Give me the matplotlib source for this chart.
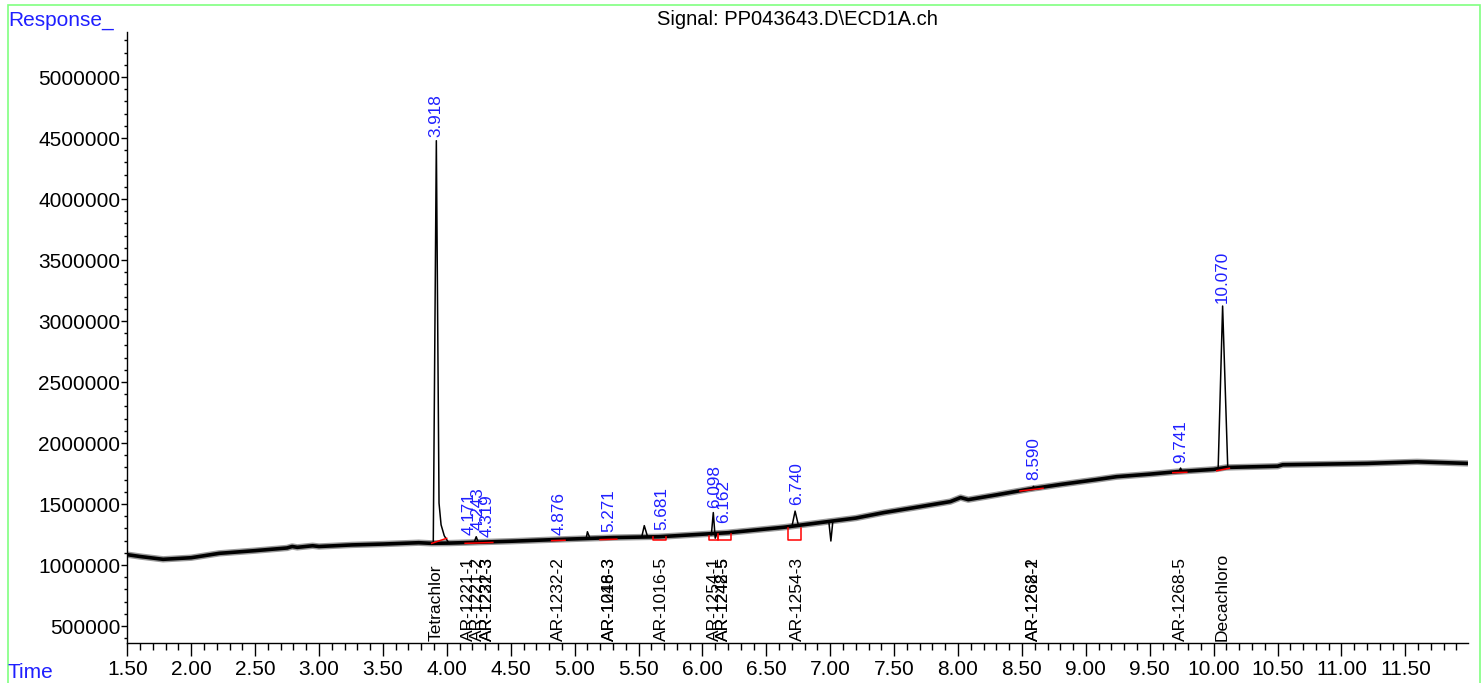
"""
Recreate the ECD1A chromatogram (PP043643.D) with peak and compound labels
"""

import numpy as np
import matplotlib
matplotlib.use('Agg')
import matplotlib.pyplot as plt
from matplotlib.patches import Rectangle
from matplotlib.ticker import MultipleLocator, FuncFormatter

plt.rcParams['font.family'] = ['Liberation Sans', 'DejaVu Sans']

# ---- baseline of the trace (time, response) ----
baseline_t = [1.50, 1.60, 1.78, 2.00, 2.22, 2.50, 2.75, 2.79, 2.83, 2.95, 3.00, 3.26,
              3.50, 3.78, 3.88, 4.02, 4.50, 4.88, 5.30, 5.66, 6.02, 6.20, 6.64,
              6.90, 7.20, 7.42, 7.70, 7.94, 8.02, 8.08, 8.30, 8.56, 8.80, 9.08,
              9.24, 9.50, 9.71, 10.00, 10.10, 10.50, 10.54, 10.80, 11.20, 11.59, 11.99]
baseline_resp = [1085000, 1070000, 1047000, 1060000, 1096000, 1118000, 1140000, 1152000,
                 1145000, 1158000, 1152000, 1165000, 1172000, 1183000, 1178000, 1180000,
                 1195000, 1210000, 1225000, 1232000, 1254000, 1265000, 1310000, 1345000,
                 1385000, 1430000, 1478000, 1520000, 1553000, 1536000, 1575000, 1623000,
                 1660000, 1700000, 1724000, 1745000, 1765000, 1784000, 1800000, 1810000,
                 1822000, 1826000, 1833000, 1846000, 1833000]

# ---- peaks / spikes drawn as thin lines (time, response) ----
spikes_t = [
    [3.894, 3.918, 3.939, 3.955, 3.980, 4.010],
    [4.215, 4.230, 4.245],
    [5.090, 5.100, 5.120],
    [5.525, 5.545, 5.570],
    [6.070, 6.085, 6.100, 6.115],
    [6.700, 6.725, 6.750],
    [6.990, 7.005, 7.020],
    [8.580, 8.590, 8.600],
    [9.730, 9.741, 9.752],
    [10.035, 10.070, 10.110],
]
spikes_resp = [
    [1180000, 4478000, 1508000, 1330000, 1240000, 1190000],
    [1190000, 1232000, 1190000],
    [1215000, 1273000, 1220000],
    [1230000, 1323000, 1235000],
    [1250000, 1430000, 1220000, 1262000],
    [1315000, 1442000, 1330000],
    [1345000, 1197000, 1355000],
    [1625000, 1645000, 1628000],
    [1768000, 1795000, 1770000],
    [1785000, 3123000, 1805000],
]

# ---- integrated peaks: retention time and apex response ----
peak_rt = [3.918, 4.171, 4.243, 4.319, 4.876, 5.271, 5.681, 6.098, 6.162,
           6.740, 8.590, 9.741, 10.070]
peak_resp = [4478000, 1215000, 1257000, 1200000, 1215000, 1240000, 1257000,
             1437000, 1314000, 1462000, 1667000, 1806000, 3123000]

# ---- compound names at expected retention times ----
compound_rt = [3.918, 4.171, 4.243, 4.319, 4.319, 4.876, 5.271, 5.271, 5.681,
               6.098, 6.162, 6.162, 6.740, 8.590, 8.590, 9.741, 10.070]
compound_names = ['Tetrachlor', 'AR-1221-1', 'AR-1221-2', 'AR-1221-3', 'AR-1232-3',
                  'AR-1232-2', 'AR-1016-3', 'AR-1248-3', 'AR-1016-5',
                  'AR-1254-1', 'AR-1242-5', 'AR-1248-5', 'AR-1254-3',
                  'AR-1262-1', 'AR-1268-2', 'AR-1268-5', 'Decachloro']

# ---- integration baselines (red lines) ----
integ_t0 = [3.882, 4.143, 4.820, 5.199, 8.485, 9.680, 10.024]
integ_t1 = [3.999, 4.360, 4.925, 5.330, 8.665, 9.790, 10.123]
integ_r0 = [1178000, 1178000, 1200000, 1208000, 1607000, 1757000, 1773000]
integ_r1 = [1219000, 1185000, 1203000, 1212000, 1629000, 1760000, 1793000]

# ---- integration boxes (red, open at the trace) ----
box_t0 = [5.610, 6.052, 6.122, 6.667]
box_t1 = [5.715, 6.122, 6.221, 6.769]
box_bottom = [1205000, 1205000, 1205000, 1205000]
box_top = [1227000, 1235000, 1254000, 1301000]

W, H = 1482, 683
BLUE = '#1f1fff'


def main():
    fig = plt.figure(figsize=(W / 100, H / 100), dpi=100)
    ax = fig.add_axes([127.3 / W, 40 / H, (1468 - 127.3) / W, (643 - 32) / H])

    # trace: noisy baseline band + thin peaks
    ax.plot(baseline_t, baseline_resp, color='#9a9a9a', lw=4.6, solid_capstyle='butt', zorder=2)
    ax.plot(baseline_t, baseline_resp, color='black', lw=2.6, solid_capstyle='butt', zorder=3)
    for st, sr in zip(spikes_t, spikes_resp):
        ax.plot(st, sr, color='black', lw=1.1, zorder=3)

    # red integration marks
    for t0, t1, r0, r1 in zip(integ_t0, integ_t1, integ_r0, integ_r1):
        ax.plot([t0, t1], [r0, r1], color='red', lw=1.1, zorder=4)
    for t0, t1, rb, rt in zip(box_t0, box_t1, box_bottom, box_top):
        ax.plot([t0, t0, t1, t1], [rt, rb, rb, rt], color='red', lw=1.1, zorder=4)

    # retention time labels
    for rt, resp in zip(peak_rt, peak_resp):
        ax.annotate(f'{rt:.3f}', xy=(rt, resp), xytext=(0, 2.5), textcoords='offset points',
                    rotation=90, ha='center', va='bottom', color=BLUE, fontsize=12.3, zorder=5)

    # compound names along the time axis
    for rt, name in zip(compound_rt, compound_names):
        ax.annotate(name, xy=(rt, 0), xycoords=('data', 'axes fraction'),
                    xytext=(0, 1.5), textcoords='offset points',
                    rotation=90, ha='center', va='bottom', color='black', fontsize=12.5, zorder=5)

    ax.set_xlim(1.5, 11.99)
    ax.set_ylim(361000, 5369000)
    for side in ['top', 'right']:
        ax.spines[side].set_visible(False)
    for side in ['left', 'bottom']:
        ax.spines[side].set_linewidth(1.0)

    ax.xaxis.set_major_locator(MultipleLocator(0.5))
    ax.xaxis.set_minor_locator(MultipleLocator(0.1))
    ax.xaxis.set_major_formatter(FuncFormatter(lambda v, p: f'{v:.2f}' if v < 11.9 else ''))
    ax.yaxis.set_major_locator(MultipleLocator(500000))
    ax.yaxis.set_minor_locator(MultipleLocator(100000))
    ax.yaxis.set_major_formatter(FuncFormatter(lambda v, p: f'{int(round(v))}'))

    ax.tick_params(axis='x', which='major', direction='out', length=9, width=1, pad=3, labelsize=15)
    ax.tick_params(axis='x', which='minor', direction='out', length=5, width=1)
    ax.tick_params(axis='y', which='major', direction='out', length=4.5, width=1, pad=0.5, labelsize=15)
    ax.tick_params(axis='y', which='minor', direction='out', length=2.5, width=1)

    # header / axis captions
    fig.text(8 / W, 1 - 26 / H, 'Response_', color=BLUE, fontsize=15, ha='left', va='baseline')
    fig.text(8 / W, 1 - 678 / H, 'Time', color=BLUE, fontsize=15, ha='left', va='baseline')
    fig.text(797 / W, 1 - 25 / H, 'Signal: PP043643.D\\ECD1A.ch', color='black',
             fontsize=14.5, ha='center', va='baseline')

    # light green frame (open at the bottom)
    frame = Rectangle((7.5 / W, -0.05), (1480 - 7.5) / W, 1.05 - 4.5 / H,
                      transform=fig.transFigure, fill=False, edgecolor='#80ff80', lw=1.2)
    fig.patches.append(frame)

    fig.savefig('out.png', dpi=100)
    plt.close(fig)


if __name__ == '__main__':
    main()
